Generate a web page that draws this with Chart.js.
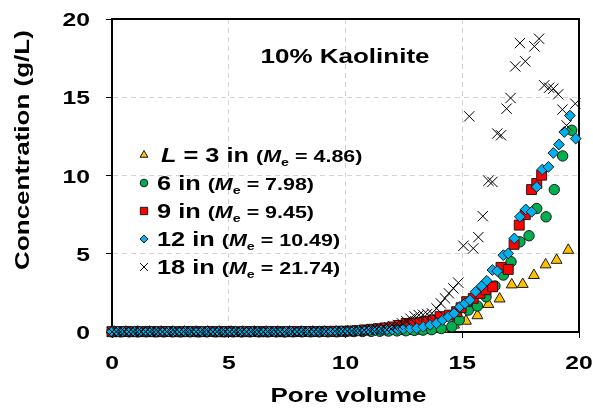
<!DOCTYPE html>
<html>
<head>
<meta charset="utf-8">
<script src="https://cdn.jsdelivr.net/npm/chart.js@4.4.0/dist/chart.umd.min.js"></script>
<style>
  html, body { margin: 0; padding: 0; background: #fff; }
  #wrap { width: 593px; height: 411px; position: relative; }
</style>
</head>
<body>
<div id="wrap"><canvas id="c"></canvas></div>
<script>
// pore volume (x) and concentration in g/L (y)
const pv3 = [0.1, 0.6, 1.1, 1.6, 2.1, 2.6, 3.1, 3.6, 4.1, 4.6, 5.1, 5.6, 6.1, 6.6, 7.1, 7.6, 8.1, 8.6, 9.1, 9.6,
  10.1, 10.6, 11.1, 11.6, 12.1, 12.6, 13.1, 13.6,
  14.16, 14.65, 15.16, 15.65, 16.12, 16.6, 17.12, 17.59, 18.07, 18.57, 19.04, 19.54];
const c3 = [0, 0, 0, 0, 0, 0, 0, 0, 0, 0, 0, 0, 0, 0, 0, 0, 0, 0, 0, 0.01,
  0.01, 0.01, 0.02, 0.02, 0.03, 0.04, 0.06, 0.1,
  0.19, 0.45, 0.7, 1.05, 1.77, 2.12, 3.02, 3.05, 3.62, 4.3, 4.59, 5.23];

const pv6 = [0, 0.37, 0.74, 1.11, 1.48, 1.85, 2.22, 2.59, 2.96, 3.33, 3.7, 4.07, 4.44, 4.81, 5.18, 5.55, 5.92, 6.29, 6.66, 7.03,
  7.4, 7.77, 8.14, 8.51, 8.88, 9.25, 9.62, 9.99, 10.36, 10.73, 11.1, 11.47, 11.84, 12.21, 12.58, 12.95, 13.32, 13.69,
  14.1, 14.55, 14.87, 15.26, 15.65, 16.02, 16.4, 16.76, 17.09, 17.47, 17.86, 18.19, 18.59, 18.94, 19.3, 19.69];
const c6 = [0.01, 0.01, 0.01, 0.01, 0.01, 0.01, 0.01, 0.01, 0.01, 0.01, 0.01, 0.01, 0.01, 0.01, 0.01, 0.01, 0.01, 0.01, 0.01, 0.01,
  0.01, 0.01, 0.01, 0.01, 0.01, 0.01, 0.01, 0.02, 0.03, 0.03, 0.04, 0.05, 0.06, 0.07, 0.08, 0.1, 0.12, 0.15,
  0.22, 0.34, 0.77, 1.4, 1.66, 2.25, 2.94, 3.64, 4.49, 5.76, 6.15, 7.89, 7.36, 9.1, 11.25, 12.89];

const pv9 = [0, 0.3, 0.6, 0.9, 1.2, 1.5, 1.8, 2.1, 2.4, 2.7, 3.0, 3.3, 3.6, 3.9, 4.2, 4.5, 4.8, 5.1, 5.4, 5.7,
  6.0, 6.3, 6.6, 6.9, 7.2, 7.5, 7.8, 8.1, 8.4, 8.7, 9.0, 9.3, 9.6, 9.9, 10.2, 10.5, 10.8, 11.1, 11.4, 11.7, 12.0, 12.3,
  12.6, 12.9, 13.2, 13.48, 13.76, 14.05, 14.45, 14.76, 14.95, 15.19, 15.47, 15.76, 16.02, 16.3, 16.66, 16.97,
  17.22, 17.44, 17.7, 17.97, 18.19, 18.4];
const c9 = [0.02, 0.02, 0.03, 0.02, 0.02, 0.03, 0.02, 0.02, 0.03, 0.02, 0.02, 0.03, 0.02, 0.02, 0.03, 0.02, 0.02, 0.03, 0.02, 0.02,
  0.03, 0.02, 0.02, 0.03, 0.02, 0.02, 0.03, 0.03, 0.03, 0.03, 0.04, 0.04, 0.04, 0.05, 0.06, 0.09, 0.13, 0.17, 0.21, 0.26, 0.32, 0.42,
  0.55, 0.58, 0.62, 0.68, 0.77, 0.98, 1.08, 1.3, 1.55, 1.94, 2.15, 2.47, 2.7, 2.89, 4.13, 4.0,
  5.6, 6.83, 7.5, 9.1, 9.49, 10.02];

const pv12 = [0, 0.24, 0.48, 0.72, 0.96, 1.2, 1.44, 1.68, 1.92, 2.16, 2.4, 2.64, 2.88, 3.12, 3.36, 3.6, 3.84, 4.08, 4.32, 4.56,
  4.8, 5.04, 5.28, 5.52, 5.76, 6.0, 6.24, 6.48, 6.72, 6.96, 7.2, 7.44, 7.68, 7.92, 8.16, 8.4, 8.64, 8.88, 9.12,
  9.36, 9.6, 9.84, 10.08, 10.32, 10.56, 10.8, 11.04, 11.28, 11.52, 11.76, 12.0, 12.24, 12.48, 12.76,
  13.05, 13.33, 13.62, 13.9, 14.16, 14.4, 14.65, 14.9, 15.12, 15.33, 15.57, 15.83, 16.05, 16.29, 16.5, 16.76,
  16.97, 17.23, 17.47, 17.72, 17.97, 18.19, 18.43, 18.69, 18.9, 19.14, 19.37, 19.61, 19.86];
const c12 = [0.02, 0.02, 0.02, 0.02, 0.02, 0.02, 0.02, 0.02, 0.02, 0.02, 0.02, 0.02, 0.02, 0.02, 0.02, 0.02, 0.02, 0.02, 0.02, 0.02,
  0.02, 0.02, 0.02, 0.02, 0.02, 0.02, 0.02, 0.02, 0.02, 0.02, 0.02, 0.02, 0.02, 0.02, 0.02, 0.02, 0.02, 0.02, 0.02,
  0.03, 0.04, 0.05, 0.06, 0.07, 0.08, 0.09, 0.1, 0.11, 0.12, 0.14, 0.16, 0.18, 0.2, 0.22,
  0.24, 0.34, 0.45, 0.56, 0.77, 0.98, 1.19, 1.61, 1.83, 2.04, 2.57, 2.94, 3.27, 3.96, 3.89, 4.91,
  5.02, 5.98, 7.36, 7.83, 7.68, 9.27, 10.38, 10.55, 11.44, 11.98, 12.78, 13.83, 12.36];

const pv18 = [0, 0.18, 0.36, 0.54, 0.72, 0.9, 1.08, 1.26, 1.44, 1.62, 1.8, 1.98, 2.16, 2.34, 2.52, 2.7, 2.88, 3.06, 3.24, 3.42,
  3.6, 3.78, 3.96, 4.14, 4.32, 4.5, 4.68, 4.86, 5.04, 5.22, 5.4, 5.58, 5.76, 5.94, 6.12, 6.3, 6.48, 6.66, 6.84, 7.02,
  7.2, 7.38, 7.56, 7.74, 7.92, 8.1, 8.28, 8.46, 8.64, 8.82, 9.0, 9.18, 9.36, 9.54, 9.72, 9.9,
  10.08, 10.26, 10.44, 10.62, 10.8, 10.98, 11.16, 11.34, 11.52, 11.7, 11.88, 12.06, 12.24, 12.42, 12.6, 12.78, 12.96,
  13.14, 13.32, 13.5, 13.7, 13.9, 14.08, 14.26, 14.43, 14.62, 14.83, 15.05, 15.3, 15.47, 15.69, 15.88, 16.12,
  16.29, 16.5, 16.66, 16.9, 17.07, 17.27, 17.47, 17.7, 18.09, 18.29, 18.51, 18.72, 18.9, 19.11, 19.29, 19.47, 19.84];
const c18 = [0.01, 0.02, 0.01, 0.02, 0.01, 0.02, 0.01, 0.02, 0.01, 0.02, 0.01, 0.02, 0.01, 0.02, 0.01, 0.02, 0.01, 0.02, 0.01, 0.02,
  0.01, 0.02, 0.01, 0.02, 0.01, 0.02, 0.01, 0.02, 0.01, 0.02, 0.01, 0.02, 0.01, 0.02, 0.01, 0.02, 0.01, 0.02, 0.01, 0.02,
  0.02, 0.02, 0.02, 0.02, 0.02, 0.02, 0.02, 0.02, 0.03, 0.03, 0.03, 0.03, 0.03, 0.04, 0.04, 0.04,
  0.05, 0.06, 0.08, 0.1, 0.12, 0.14, 0.16, 0.19, 0.22, 0.25, 0.3, 0.35, 0.45, 0.55, 0.7, 0.85, 1.0,
  1.08, 1.1, 1.15, 1.19, 1.51, 1.83, 2.15, 2.47, 2.79, 3.15, 5.51, 13.78, 5.34, 6.06, 7.4, 9.66,
  9.59, 12.68, 12.57, 14.27, 14.95, 16.97, 18.46, 17.29, 18.25, 18.74, 15.76, 15.61, 15.55, 15.19, 14.21, 13.2, 14.59];

const xTicks = [0, 5, 10, 15, 20];
const yTicks = [0, 5, 10, 15, 20];
const columnLengths = ['3', '6', '9', '12', '18'];
const meValues = ['4.86', '7.98', '9.45', '10.49', '21.74'];
const chartTitle = '10% Kaolinite';
const xTitle = 'Pore volume';
const yTitle = 'Concentration (g/L)';

const pts = (xs, ys) => xs.map((x, i) => ({ x: x, y: ys[i] }));

const FONT = '"Liberation Sans", Arial, sans-serif';
const SX = 1.3; // text in the picture is drawn wide

function runsWidth(ctx, runs) {
  let w = 0;
  for (const r of runs) { ctx.font = r.font; w += ctx.measureText(r.text).width; }
  return w * SX;
}
function drawRuns(ctx, x, y, runs, align) {
  const w = runsWidth(ctx, runs);
  const x0 = align === 'center' ? x - w / 2 : align === 'right' ? x - w : x;
  ctx.save();
  ctx.translate(x0, y);
  ctx.scale(SX, 1);
  ctx.textAlign = 'left';
  ctx.textBaseline = 'alphabetic';
  ctx.fillStyle = '#000';
  let cx = 0;
  for (const r of runs) {
    ctx.font = r.font;
    ctx.fillText(r.text, cx, r.dy || 0);
    cx += ctx.measureText(r.text).width;
  }
  ctx.restore();
}
const bold = (s) => 'bold ' + s + 'px ' + FONT;
const boldIt = (s) => 'italic bold ' + s + 'px ' + FONT;

const datasets = [
  { label: '3 in', data: pts(pv3, c3), order: 4, pointStyle: 'triangle', pointRadius: 6.3,
    backgroundColor: '#FFC000', borderColor: '#1a1a1a', borderWidth: 1, legendRadius: 4.5 },
  { label: '6 in', data: pts(pv6, c6), order: 3, pointStyle: 'circle', pointRadius: 5.2,
    backgroundColor: '#00B050', borderColor: '#1a1a1a', borderWidth: 1, legendRadius: 3.8 },
  { label: '9 in', data: pts(pv9, c9), order: 2, pointStyle: 'rect', pointRadius: 7,
    backgroundColor: '#FF0000', borderColor: '#1a1a1a', borderWidth: 1, legendRadius: 5.2 },
  { label: '12 in', data: pts(pv12, c12), order: 1, pointStyle: 'rectRot', pointRadius: 5.4,
    backgroundColor: '#00B0F0', borderColor: '#1a1a1a', borderWidth: 1, legendRadius: 4 },
  { label: '18 in', data: pts(pv18, c18), order: 0, pointStyle: 'crossRot', pointRadius: 7.3,
    backgroundColor: '#000', borderColor: '#000', borderWidth: 1, legendRadius: 5.5 }
];
datasets.forEach(d => { d.clip = false; d.showLine = false; d.pointHoverRadius = d.pointRadius; });

const gridColor = (c) => (c.tick && (c.tick.value === 0 || c.tick.value === 20)) ? 'rgba(0,0,0,0)' : '#d4d4d4';

const framePlugin = {
  id: 'frame',
  beforeDatasetsDraw(chart) {
    const { ctx, chartArea: a } = chart;
    ctx.save();
    ctx.strokeStyle = '#000';
    ctx.lineWidth = 2;
    ctx.beginPath();
    ctx.moveTo(a.left - 1, a.top);
    ctx.lineTo(a.right, a.top);
    ctx.lineTo(a.right, a.bottom + 1);
    ctx.stroke();
    ctx.restore();
  }
};

const textPlugin = {
  id: 'texts',
  afterDraw(chart) {
    const { ctx, chartArea: a } = chart;
    const xs = chart.scales.x, ys = chart.scales.y;
    // tick labels
    xTicks.forEach(v => drawRuns(ctx, xs.getPixelForValue(v), 369, [{ text: String(v), font: bold(19) }], 'center'));
    yTicks.forEach(v => drawRuns(ctx, 90, ys.getPixelForValue(v) + 7, [{ text: String(v), font: bold(19) }], 'right'));
    // axis titles
    drawRuns(ctx, (a.left + a.right) / 2 + 3, 402, [{ text: xTitle, font: bold(20) }], 'center');
    ctx.save();
    ctx.translate(29, 150);
    ctx.rotate(-Math.PI / 2);
    drawRuns(ctx, 0, 0, [{ text: yTitle, font: bold(20) }], 'center');
    ctx.restore();
    // panel title
    drawRuns(ctx, 345, 63, [{ text: chartTitle, font: bold(20) }], 'center');
    // legend
    const rowY = [155, 183, 211, 239, 267];
    chart.data.datasets.forEach((d, i) => {
      ctx.save();
      ctx.fillStyle = d.backgroundColor;
      ctx.strokeStyle = d.borderColor;
      ctx.lineWidth = d.borderWidth;
      Chart.helpers.drawPoint(ctx, { pointStyle: d.pointStyle, radius: d.legendRadius, rotation: 0, borderWidth: d.borderWidth }, 144, rowY[i]);
      ctx.restore();
      const runs = [];
      if (i === 0) {
        runs.push({ text: 'L', font: boldIt(19.5) });
        runs.push({ text: ' = ' + columnLengths[i] + ' in ', font: bold(19.5) });
      } else {
        runs.push({ text: columnLengths[i] + ' in ', font: bold(19.5) });
      }
      runs.push({ text: '(', font: bold(16.5) });
      runs.push({ text: 'M', font: boldIt(16.5) });
      runs.push({ text: 'e', font: bold(11), dy: 4 });
      runs.push({ text: ' = ' + meValues[i] + ')', font: bold(16.5) });
      drawRuns(ctx, i === 0 ? 161 : 157, rowY[i] + 7, runs, 'left');
    });
  }
};

new Chart(document.getElementById('c'), {
  type: 'scatter',
  data: { datasets: datasets },
  options: {
    responsive: true,
    maintainAspectRatio: false,
    animation: false,
    devicePixelRatio: 1,
    layout: { padding: { left: 0, right: 14, top: 19, bottom: 0 } },
    plugins: { legend: { display: false }, tooltip: { enabled: false } },
    scales: {
      x: {
        type: 'linear', min: 0, max: 20,
        ticks: { display: false, stepSize: 5 },
        grid: { color: gridColor, lineWidth: 1, drawTicks: true, tickLength: 6, tickColor: '#000', tickWidth: 1 },
        border: { display: true, color: '#000', width: 2, dash: [5, 4] },
        afterFit: (s) => { s.height = 79; }
      },
      y: {
        type: 'linear', min: 0, max: 20,
        ticks: { display: false, stepSize: 5 },
        grid: { color: gridColor, lineWidth: 1, drawTicks: true, tickLength: 6, tickColor: '#000', tickWidth: 1 },
        border: { display: true, color: '#000', width: 2, dash: [5, 4] },
        afterFit: (s) => { s.width = 112; }
      }
    }
  },
  plugins: [framePlugin, textPlugin]
});
</script>
</body>
</html>
